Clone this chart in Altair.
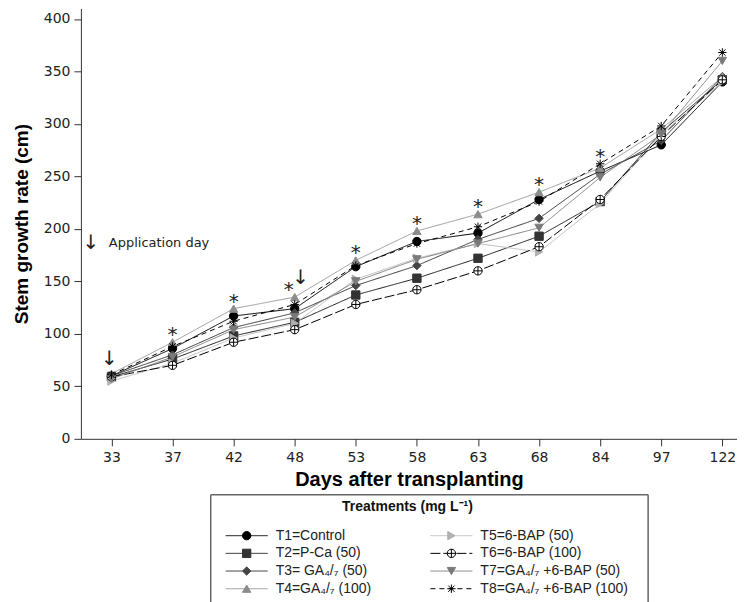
import json
import altair as alt
import pandas as pd

# ---------------- data ----------------
days = [33, 37, 42, 48, 53, 58, 63, 68, 84, 97, 122]
treatments = ["T1", "T2", "T3", "T4", "T5", "T6", "T7", "T8"]
t1 = [60, 86, 117, 124, 164, 188, 196, 228, 255, 280, 340]
t2 = [59, 76, 98, 111, 137, 153, 172, 193, 226, 292, 342]
t3 = [60, 80, 106, 120, 146, 165, 190, 210, 252, 284, 345]
t4 = [62, 92, 124, 135, 170, 198, 214, 235, 258, 295, 345]
t5 = [55, 72, 96, 110, 152, 172, 186, 178, 224, 290, 340]
t6 = [59, 70, 92, 104, 128, 142, 160, 183, 228, 288, 342]
t7 = [57, 78, 104, 116, 150, 171, 186, 201, 249, 290, 360]
t8 = [61, 88, 112, 128, 165, 186, 202, 226, 262, 298, 368]
series = [t1, t2, t3, t4, t5, t6, t7, t8]

sig_days = [37, 42, 48, 53, 58, 63, 68, 84]
application_days = [33, 48]

legend_labels = ["T1=Control", "T2=P-Ca (50)", "T3= GA\u2084/\u2087 (50)", "T4=GA\u2084/\u2087 (100)",
                 "T5=6-BAP (50)", "T6=6-BAP (100)", "T7=GA\u2084/\u2087 +6-BAP (50)",
                 "T8=GA\u2084/\u2087 +6-BAP (100)"]
legend_cols = [0, 0, 0, 0, 1, 1, 1, 1]
legend_rows = [0, 1, 2, 3, 0, 1, 2, 3]
legend_title = "Treatments (mg L\u207b\u00b9)"
annotation_text = "Application day"

# ---------------- tables ----------------
rows = []
for name, vals in zip(treatments, series):
    for i, (d, v) in enumerate(zip(days, vals)):
        rows.append({"treatment": name, "idx": i, "day": d, "value": v})
df = pd.DataFrame(rows)

legend_df = pd.DataFrame({"treatment": treatments, "label": legend_labels,
                          "col": legend_cols, "row": legend_rows})

# ---------------- styles ----------------
crossed_circle = "M-1,0A1,1,0,1,1,1,0A1,1,0,1,1,-1,0ZM-1,0H1M0,-1V1"
asterisk = "M-1,0H1M0,-1V1M-0.75,-0.75L0.75,0.75M-0.75,0.75L0.75,-0.75"

line_colors = ["#000000", "#1a1a1a", "#333333", "#9a9a9a", "#bdbdbd", "#000000", "#808080", "#000000"]
fill_colors = ["#000000", "#333333", "#444444", "#8c8c8c", "#b0b0b0", "#ffffff", "#7a7a7a", "transparent"]
stroke_colors = ["#000000", "#333333", "#444444", "#8c8c8c", "#b0b0b0", "#000000", "#7a7a7a", "#000000"]
shapes = ["circle", "square", "diamond", "triangle-up", "triangle-right", crossed_circle, "triangle-down", asterisk]
dashes = [[1, 0], [1, 0], [1, 0], [1, 0], [1, 0], [10, 3], [1, 0], [5, 4]]
sizes = [70, 70, 85, 110, 100, 90, 110, 110]

color_enc = alt.Color("treatment:N", scale=alt.Scale(domain=treatments, range=line_colors), legend=None)
dash_enc = alt.StrokeDash("treatment:N", scale=alt.Scale(domain=treatments, range=dashes), legend=None)
fill_enc = alt.Fill("treatment:N", scale=alt.Scale(domain=treatments, range=fill_colors), legend=None)
stroke_enc = alt.Stroke("treatment:N", scale=alt.Scale(domain=treatments, range=stroke_colors), legend=None)
shape_enc = alt.Shape("treatment:N", scale=alt.Scale(domain=treatments, range=shapes), legend=None)
size_enc = alt.Size("treatment:N", scale=alt.Scale(domain=treatments, range=sizes), legend=None)

label_expr = json.dumps([str(d) for d in days]) + "[datum.value]"
x_enc = alt.X("idx:Q",
              scale=alt.Scale(domain=[-0.5, 10.24], nice=False, zero=False),
              axis=alt.Axis(values=list(range(len(days))), labelExpr=label_expr,
                            title="Days after transplanting", labelPadding=5, titlePadding=5))
y_enc = alt.Y("value:Q",
              scale=alt.Scale(domain=[0, 410], nice=False),
              axis=alt.Axis(values=list(range(0, 401, 50)), title="Stem growth rate (cm)",
                            labelPadding=4, titlePadding=12))

base = alt.Chart(df)
lines = base.mark_line(strokeWidth=1).encode(x=x_enc, y=y_enc, color=color_enc,
                                             strokeDash=dash_enc, detail="treatment:N")
points = base.mark_point(filled=True, strokeWidth=1, opacity=1).encode(
    x="idx:Q", y="value:Q", shape=shape_enc, fill=fill_enc, stroke=stroke_enc, size=size_enc)

# significance asterisks above the maximum of each day
sig_plain = [d for d in sig_days if d not in application_days]
sig_app = [d for d in sig_days if d in application_days]
star_base = base.transform_aggregate(top="max(value)", groupby=["idx", "day"])
stars = star_base.transform_filter(alt.FieldOneOfPredicate(field="day", oneOf=sig_plain)).mark_text(
    text="*", fontSize=20, font="DejaVu Sans", baseline="middle", dy=-7, color="#222"
).encode(x="idx:Q", y="top:Q")
stars_app = star_base.transform_filter(alt.FieldOneOfPredicate(field="day", oneOf=sig_app)).mark_text(
    text="*", fontSize=20, font="DejaVu Sans", baseline="middle", dy=-7, dx=-6, color="#222"
).encode(x="idx:Q", y="top:Q")

arr_plain = [d for d in application_days if d not in sig_days]
arrows_plain = star_base.transform_filter(alt.FieldOneOfPredicate(field="day", oneOf=arr_plain)).mark_text(
    text="\u2193", fontSize=20, font="DejaVu Sans", baseline="middle", dy=-15, dx=-2, color="#222"
).encode(x="idx:Q", y="top:Q")
arrows_sig = star_base.transform_filter(alt.FieldOneOfPredicate(field="day", oneOf=sig_app)).mark_text(
    text="\u2193", fontSize=20, font="DejaVu Sans", baseline="middle", dy=-19, dx=6, color="#222"
).encode(x="idx:Q", y="top:Q")

one = pd.DataFrame({"a": [0]})
note_arrow = alt.Chart(one).mark_text(text="\u2193", fontSize=20, font="DejaVu Sans",
                                      baseline="middle", color="#222").encode(
    x=alt.value(10), y=alt.value(235))
note_text = alt.Chart(one).mark_text(text=annotation_text, fontSize=13, font="DejaVu Sans",
                                     align="left", baseline="middle", color="#222").encode(
    x=alt.value(28), y=alt.value(235))

# ---------------- custom legend ----------------
leg = alt.Chart(legend_df).transform_calculate(
    lx="166 + datum.col * 205", ly="528 + datum.row * 17.7"
).transform_calculate(
    lx1="datum.lx - 21", lx2="datum.lx + 21", tx="datum.lx + 29"
)
leg_lines = leg.mark_rule(strokeWidth=1).encode(
    x=alt.X("lx1:Q", scale=None, axis=None), x2="lx2:Q",
    y=alt.Y("ly:Q", scale=None, axis=None), color=color_enc, strokeDash=dash_enc)
leg_points = leg.mark_point(filled=True, strokeWidth=1, opacity=1).encode(
    x=alt.X("lx:Q", scale=None, axis=None), y=alt.Y("ly:Q", scale=None, axis=None),
    shape=shape_enc, fill=fill_enc, stroke=stroke_enc, size=size_enc)
leg_text = leg.mark_text(align="left", baseline="middle", fontSize=14,
                         font="Liberation Sans", color="#222").encode(
    x=alt.X("tx:Q", scale=None, axis=None), y=alt.Y("ly:Q", scale=None, axis=None), text="label:N")
leg_title = alt.Chart(one).mark_text(text=legend_title, fontSize=14, fontWeight="bold",
                                     font="Liberation Sans", align="center", baseline="middle",
                                     color="#111").encode(x=alt.value(327), y=alt.value(499))
box_top = alt.Chart(one).mark_rule(color="#666", strokeWidth=1.5).encode(
    x=alt.value(130), x2=alt.value(568), y=alt.value(487))
box_left = alt.Chart(one).mark_rule(color="#666", strokeWidth=1.5).encode(
    x=alt.value(130), y=alt.value(487), y2=alt.value(596))
box_right = alt.Chart(one).mark_rule(color="#666", strokeWidth=1.5).encode(
    x=alt.value(568), y=alt.value(487), y2=alt.value(596))

chart = alt.layer(
    lines, points, stars, stars_app, arrows_plain, arrows_sig, note_arrow, note_text,
    box_top, box_left, box_right, leg_title, leg_lines, leg_points, leg_text
).properties(
    width=657, height=431, padding={"left": 4, "top": 0, "right": 0, "bottom": 0}
).configure_view(stroke=None).configure_axis(
    grid=False, domainColor="#333", tickColor="#333", labelColor="#222", titleColor="#000",
    labelFont="DejaVu Sans", labelFontSize=14, titleFont="Liberation Sans", titleFontSize=19,
    titleFontWeight="bold", tickSize=7, domainWidth=1, tickWidth=1
).configure_axisX(titleFontSize=20)

chart.save("out.html", embed_options={"renderer": "svg", "actions": False})
